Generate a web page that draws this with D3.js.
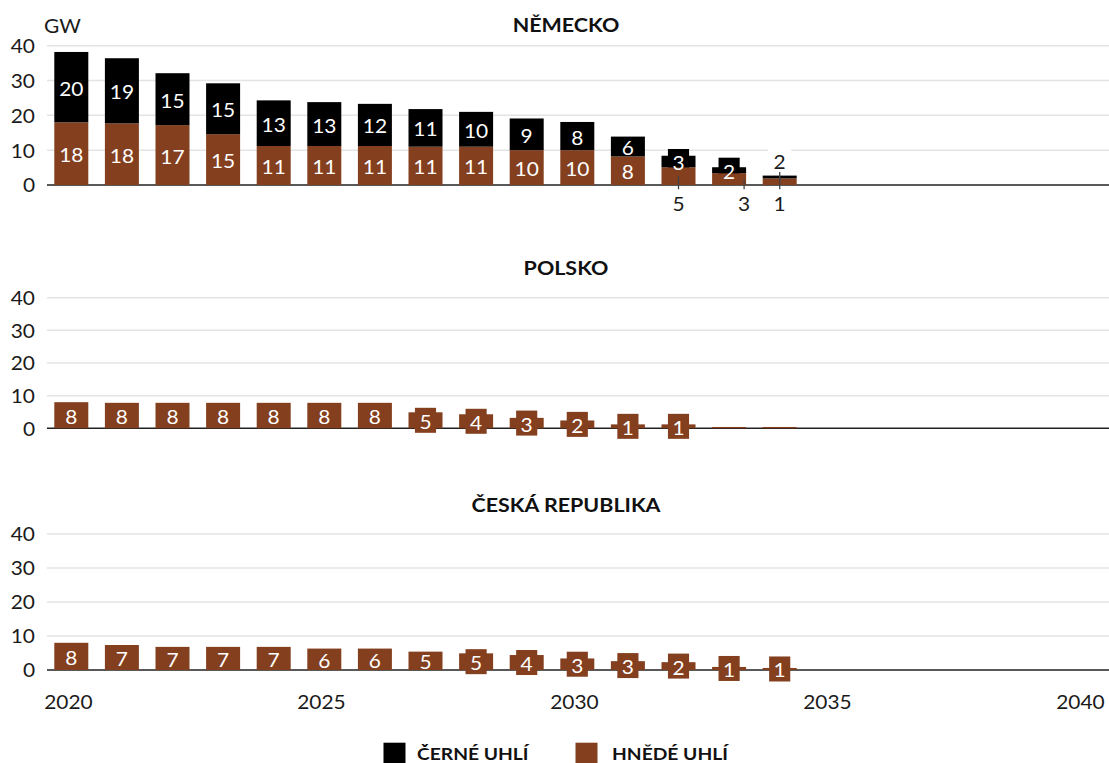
<!DOCTYPE html>
<html><head><meta charset="utf-8">
<script src="https://cdn.jsdelivr.net/npm/d3@7"></script>
<style>
html,body{margin:0;padding:0;background:#fff;}
svg{display:block;font-family:Lato,'Noto Sans',sans-serif;}
</style></head>
<body><svg id="c" width="1109" height="763"></svg>
<script>
// ---- data ----
const years = [2020,2021,2022,2023,2024,2025,2026,2027,2028,2029,2030,2031,2032,2033,2034];
const deBrown = [18.0,17.7,17.2,14.6,11.2,11.2,11.2,11.0,11.0,10.0,10.0,8.2,5.1,3.4,1.9];
const deBlack = [20.2,18.7,14.9,14.6,13.1,12.6,12.1,10.8,10.0,9.1,8.1,5.7,3.3,1.7,0.8];
const plBrown = [8.0,7.8,7.8,7.8,7.8,7.8,7.8,4.9,4.3,3.2,2.4,1.2,1.2,0.4,0.4];
const plBlack = [0,0,0,0,0,0,0,0,0,0,0,0,0,0,0];
const czBrown = [8.0,7.35,6.8,6.8,6.8,6.3,6.3,5.4,4.9,4.4,3.4,2.6,2.3,0.9,0.6];
const czBlack = [0,0,0,0,0,0,0,0,0,0,0,0,0,0,0];
const countries = ["NĚMECKO","POLSKO","ČESKÁ REPUBLIKA"];
const seriesNames = ["ČERNÉ UHLÍ","HNĚDÉ UHLÍ"];
const yTicks = [0,10,20,30,40];
const xTicks = [2020,2025,2030,2035,2040];
const unitLabel = "GW";
// labels placed outside the bars (country index, series key, year, side, x shift)
const outsideLabels = [
  {c:0, s:"brown", year:2032, side:"below", dx:0},
  {c:0, s:"brown", year:2033, side:"below", dx:15},
  {c:0, s:"brown", year:2034, side:"above", dx:0},
  {c:0, s:"black", year:2034, side:"below", dx:0}
];

// ---- layout / style ----
const colors = {black:"#000000", brown:"#843f1f"};
const plotLeft = 47, plotRight = 1109;
const panels = [
  {brown:deBrown, black:deBlack, y0:185, yTop:45.7, titleY:25},
  {brown:plBrown, black:plBlack, y0:428.3, yTop:297.7, titleY:268},
  {brown:czBrown, black:czBlack, y0:670, yTop:534, titleY:505}
];
const barW = 34, barShift = 3.3;
const boxH = 25, boxThreshold = 17.5;
const stretchF = 1.1, titleStretch = 1.16;
const x = d3.scaleLinear().domain([2020,2040]).range([68,1080]);

const svg = d3.select("#c");
function stretch(sel, f){
  sel.each(function(){
    const L = this.getComputedTextLength();
    d3.select(this).attr("textLength", L*f).attr("lengthAdjust","spacingAndGlyphs");
  });
  return sel;
}

panels.forEach((p,pi)=>{
  const y = d3.scaleLinear().domain([0,40]).range([p.y0,p.yTop]);
  const g = svg.append("g");
  // title
  stretch(g.append("text").attr("x",566).attr("y",p.titleY).attr("text-anchor","middle")
    .attr("dominant-baseline","central").attr("font-weight","700").attr("font-size",18.5)
    .attr("fill","#111").text(countries[pi]), titleStretch);
  // gridlines
  g.selectAll("line.grid").data(yTicks.filter(t=>t>0)).join("line").attr("class","grid")
    .attr("x1",plotLeft).attr("x2",plotRight).attr("y1",d=>y(d)).attr("y2",d=>y(d))
    .attr("stroke","#e4e4e4").attr("stroke-width",1.5);
  // y axis
  const yAxis = d3.axisLeft(y).tickValues(yTicks).tickSize(0).tickPadding(0);
  const ya = g.append("g").attr("transform","translate(35,0)").call(yAxis);
  ya.select(".domain").remove();
  stretch(ya.selectAll("text").attr("font-size",19).attr("fill","#1a1a1a").attr("font-family","Lato")
    .attr("dy","0.36em"), stretchF);
  if(pi===0){
    stretch(g.append("text").attr("x",44).attr("y",33.3).attr("font-size",19).attr("fill","#1a1a1a")
      .text(unitLabel), stretchF);
  }
  // baseline
  g.append("line").attr("x1",plotLeft).attr("x2",plotRight).attr("y1",p.y0).attr("y2",p.y0)
    .attr("stroke","#222").attr("stroke-width",1.5);

  // stacked data
  const rows = years.map((yr,i)=>({year:yr, brown:p.brown[i], black:p.black[i]}));
  const stack = d3.stack().keys(["brown","black"])(rows);
  const segs = [];
  stack.forEach(layer=>{
    layer.forEach(d=>{
      const v = d[1]-d[0];
      if(v>0) segs.push({key:layer.key, year:d.data.year, v, lo:d[0], hi:d[1]});
    });
  });
  const isOutside = s => outsideLabels.find(o=>o.c===pi && o.s===s.key && o.year===s.year);
  const labelSegs = segs.filter(s=>Math.round(s.v)>=1);
  const cx = yr => x(yr)+barShift;

  const inside = labelSegs.filter(s=>!isOutside(s));
  const boxes = g.append("g");
  const bars = g.append("g");
  bars.selectAll("rect").data(segs).join("rect")
    .attr("x",d=>cx(d.year)-barW/2).attr("width",barW)
    .attr("y",d=>y(d.hi)).attr("height",d=>y(d.lo)-y(d.hi))
    .attr("fill",d=>colors[d.key]);
  const texts = g.append("g");
  inside.forEach(s=>{
    const yc = (y(s.lo)+y(s.hi))/2;
    const t = texts.append("text").attr("x",cx(s.year)).attr("y",yc+1).attr("text-anchor","middle")
      .attr("dominant-baseline","central").attr("font-size",19).attr("fill","#fff")
      .text(Math.round(s.v));
    const L = t.node().getComputedTextLength();
    stretch(t, stretchF);
    if(y(s.lo)-y(s.hi) < boxThreshold){
      const bw = L*stretchF+9;
      boxes.append("rect").attr("x",cx(s.year)-bw/2).attr("width",bw)
        .attr("y",yc-boxH/2).attr("height",boxH).attr("fill",colors[s.key]);
    }
  });
  // outside labels
  labelSegs.filter(s=>isOutside(s)).forEach(s=>{
    const o = isOutside(s);
    const xc = cx(s.year)+o.dx;
    const segMid = (y(s.lo)+y(s.hi))/2;
    if(o.side==="below"){
      const ly = p.y0+17.5;
      texts.append("line").attr("x1",xc).attr("x2",xc).attr("y1",segMid).attr("y2",p.y0+4.3)
        .attr("stroke","#444").attr("stroke-width",1.3);
      stretch(texts.append("text").attr("x",xc).attr("y",ly+1).attr("text-anchor","middle")
        .attr("dominant-baseline","central").attr("font-size",19).attr("fill","#1a1a1a")
        .text(Math.round(s.v)), stretchF);
    } else {
      const top = y(d3.max(segs.filter(q=>q.year===s.year),q=>q.hi));
      const ly = top-15;
      boxes.append("rect").attr("x",xc-11.5).attr("width",23).attr("y",ly-12.5).attr("height",25)
        .attr("fill","#fff");
      texts.append("line").attr("x1",xc).attr("x2",xc).attr("y1",segMid).attr("y2",ly+11.3)
        .attr("stroke","#444").attr("stroke-width",1.3);
      stretch(texts.append("text").attr("x",xc).attr("y",ly+1).attr("text-anchor","middle")
        .attr("dominant-baseline","central").attr("font-size",19).attr("fill","#1a1a1a")
        .text(Math.round(s.v)), stretchF);
    }
  });

  // x axis on the last panel
  if(pi===panels.length-1){
    const xAxis = d3.axisBottom(x).tickValues(xTicks).tickFormat(d3.format("d")).tickSize(0).tickPadding(0);
    const xa = g.append("g").attr("transform",`translate(0,${p.y0+32})`).call(xAxis);
    xa.select(".domain").remove();
    stretch(xa.selectAll("text").attr("font-size",19).attr("fill","#1a1a1a").attr("font-family","Lato")
      .attr("dy","0.36em").attr("y",0), stretchF);
  }
});

// legend
const legendItems = [
  {name:seriesNames[0], key:"black", x:383.5, tx:417},
  {name:seriesNames[1], key:"brown", x:575.5, tx:612}
];
const lg = svg.append("g");
legendItems.forEach(it=>{
  lg.append("rect").attr("x",it.x).attr("y",742.7).attr("width",22).attr("height",22).attr("fill",colors[it.key]);
  stretch(lg.append("text").attr("x",it.tx).attr("y",753.5).attr("dominant-baseline","central")
    .attr("font-size",17.5).attr("font-weight","700").attr("fill","#111").text(it.name), stretchF);
});
</script></body></html>
